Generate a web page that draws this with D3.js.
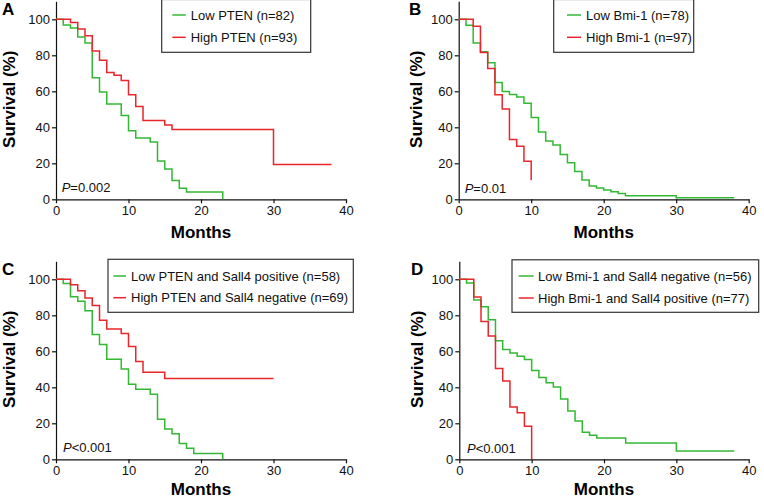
<!DOCTYPE html>
<html>
<head>
<meta charset="utf-8">
<script src="https://cdn.jsdelivr.net/npm/d3@7"></script>
<style>
  body { margin: 0; background: #fff; }
  svg { display: block; font-family: "Liberation Sans", Arial, sans-serif; }
</style>
</head>
<body>
<svg id="plot" width="764" height="499"></svg>
<script>
// survival curves, [month, survival %] at each step
const lowPTEN = [[0,100],[1,96.8],[2,95.2],[3,90.1],[4,86.8],[5,67.5],[6,59.6],[7,53],[9,46.5],[10,38.1],[11,34],[13,31.8],[14,21.3],[15,16.8],[16,10.5],[17,6.1],[18,4.1],[23,0]]
const highPTEN = [[0,100],[2,98.2],[3,94.6],[4,90.9],[5,82.4],[6,77.3],[7,70.4],[8,68.9],[9,66],[10,58.1],[11,51.6],[12,43.8],[15,41.3],[16,38.8],[30,19.4],[38,19.4]]
const lowBmi = [[0,100],[1,96.7],[2,86.8],[3,82],[4,75.9],[5,64.9],[6,59.9],[7,58.2],[8,56.8],[9,53.4],[10,45.5],[11,37.4],[12,32.4],[13,30.2],[14,24.9],[15,20.3],[16,15.5],[17,10.7],[18,7.4],[19,6.3],[20,5.2],[21,4.2],[22,3.2],[23,2],[30,0.9],[38,0.9]]
const highBmi = [[0,100],[2,96.1],[3,81.6],[4,72.7],[5,58.1],[6,50.1],[7,33.2],[8,29.5],[9,21.1],[10,10.6]]
const lowPTENSall4pos = [[0,100],[1,97.6],[2,90.3],[3,87.8],[4,82.5],[5,69.3],[6,63.8],[7,55.6],[9,50.1],[10,41.7],[11,38.9],[13,36.2],[14,22.3],[15,16.9],[16,14.2],[17,8.8],[18,6.1],[19,3.2],[23,0]]
const highPTENSall4neg = [[0,100],[2,97],[3,93.6],[4,89.6],[5,85.4],[6,77.3],[7,72.4],[9,69.9],[10,62.7],[11,54.4],[12,48.3],[15,44.9],[30,44.9]]
const lowBmiSall4neg = [[0,100],[1,98],[2,88.5],[3,84.7],[4,77.5],[5,65.8],[6,61],[7,59.1],[8,57.3],[9,55.5],[10,49.4],[11,45.4],[12,42.5],[13,40.2],[14,33.5],[15,26.8],[16,21.3],[17,15],[18,13.4],[19,11.9],[23,9.1],[30,4.6],[38,4.6]]
const highBmiSall4pos = [[0,100],[2,90.2],[3,76.6],[4,68.5],[5,50.4],[6,43.5],[7,29.1],[8,25.8],[9,18.4],[10,0]]

const xTicks = [0, 10, 20, 30, 40]
const yTicks = [0, 20, 40, 60, 80, 100]
const panelLetters = ["A", "B", "C", "D"]
const pValues = ["=0.002", "=0.01", "<0.001", "<0.001"]
const legendLabels = [
  ["Low PTEN (n=82)", "High PTEN (n=93)"],
  ["Low Bmi-1 (n=78)", "High Bmi-1 (n=97)"],
  ["Low PTEN and Sall4 positive (n=58)", "High PTEN and Sall4 negative (n=69)"],
  ["Low Bmi-1 and Sall4 negative (n=56)", "High Bmi-1 and Sall4 positive (n=77)"]
]
const curves = [
  [lowPTEN, highPTEN],
  [lowBmi, highBmi],
  [lowPTENSall4pos, highPTENSall4neg],
  [lowBmiSall4neg, highBmiSall4pos]
]

const green = "#33b833"
const red = "#e8262b"

// layout for each panel (pixels)
const panels = [
  {x0: 56,    x1: 346,   y0: 199.3, letterX: 2,   ylabX: 15,    months: 238, pX: 61.7,  pY: 191.5,
   box: [161.7, -0.5, 149, 52.8], lineX: [172.3, 185.7], textX: 190.7, rowY: [15, 37.3]},
  {x0: 458.7, x1: 748.7, y0: 199.3, letterX: 409, ylabX: 422,   months: 238, pX: 464.7, pY: 192.5,
   box: [553.7, -0.5, 140, 52.8], lineX: [567, 581], textX: 586, rowY: [15, 37.3]},
  {x0: 56,    x1: 346,   y0: 459.3, letterX: 2,   ylabX: 15,    months: 495, pX: 63,    pY: 452,
   box: [108, 259.3, 245.3, 53], lineX: [113.3, 126], textX: 131, rowY: [276, 297.7]},
  {x0: 459.3, x1: 748.7, y0: 459.3, letterX: 411, ylabX: 422.5, months: 495, pX: 467,   pY: 452.7,
   box: [512, 259.8, 246.7, 52.5], lineX: [518.7, 533.7], textX: 538, rowY: [276, 298]}
]

const svg = d3.select("#plot")

panels.forEach(function(p, i) {
  const xScale = d3.scaleLinear()
    .domain([0, 40])
    .range([p.x0, p.x1])
  const yScale = d3.scaleLinear()
    .domain([0, 110])
    .range([p.y0, p.y0 - 198])

  const axisB = d3.axisBottom(xScale).tickValues(xTicks).tickSize(4).tickSizeOuter(0)
  const axisL = d3.axisLeft(yScale).tickValues(yTicks).tickSize(4).tickSizeOuter(0)

  const gx = svg.append("g")
    .attr("transform", "translate(0," + p.y0 + ")")
    .call(axisB)
  const gy = svg.append("g")
    .attr("transform", "translate(" + p.x0 + ",0)")
    .call(axisL)
  ;[gx, gy].forEach(function(g) {
    g.selectAll("path, line").attr("stroke", "#111").attr("stroke-width", 1.2)
    g.selectAll("text")
      .attr("fill", "#111")
      .style("font-size", "13px")
      .style("font-family", "'Liberation Sans', Arial, sans-serif")
  })
  gx.selectAll("text").attr("dy", "0.75em").attr("y", 6)
  gy.selectAll("text").attr("x", -6)

  // survival curves (red drawn last, on top)
  const line = d3.line()
    .x(function(d) { return xScale(d[0]) })
    .y(function(d) { return yScale(d[1]) })
    .curve(d3.curveStepAfter)
  const colors = [green, red]
  curves[i].forEach(function(series, k) {
    svg.append("path")
      .datum(series)
      .attr("d", line)
      .attr("fill", "none")
      .attr("stroke", colors[k])
      .attr("stroke-width", 1.5)
  })

  // panel letter
  svg.append("text")
    .attr("x", p.letterX)
    .attr("y", p.y0 - 184.5)
    .style("font-size", "17px")
    .style("font-weight", "bold")
    .text(panelLetters[i])

  // axis titles
  svg.append("text")
    .attr("x", (p.x0 + p.x1) / 2)
    .attr("y", p.months)
    .style("text-anchor", "middle")
    .style("font-size", "17px")
    .style("font-weight", "bold")
    .text("Months")
  svg.append("text")
    .attr("transform", "translate(" + p.ylabX + "," + (p.y0 - 100) + ") rotate(-90)")
    .style("text-anchor", "middle")
    .style("font-size", "17px")
    .style("font-weight", "bold")
    .text("Survival (%)")

  // p value
  const pt = svg.append("text")
    .attr("x", p.pX)
    .attr("y", p.pY)
    .style("font-size", "13px")
    .attr("fill", "#111")
  pt.append("tspan").style("font-style", "italic").text("P")
  pt.append("tspan").text(pValues[i])

  // legend
  svg.append("rect")
    .attr("x", p.box[0])
    .attr("y", p.box[1])
    .attr("width", p.box[2])
    .attr("height", p.box[3])
    .attr("fill", "#fff")
    .attr("stroke", "#333")
    .attr("stroke-width", 1.2)
  legendLabels[i].forEach(function(label, k) {
    svg.append("line")
      .attr("x1", p.lineX[0])
      .attr("x2", p.lineX[1])
      .attr("y1", p.rowY[k])
      .attr("y2", p.rowY[k])
      .attr("stroke", colors[k])
      .attr("stroke-width", 1.5)
    svg.append("text")
      .attr("x", p.textX)
      .attr("y", p.rowY[k])
      .attr("dy", "0.35em")
      .attr("fill", "#111")
      .style("font-size", "13px")
      .text(label)
  })
})
</script>
</body>
</html>
